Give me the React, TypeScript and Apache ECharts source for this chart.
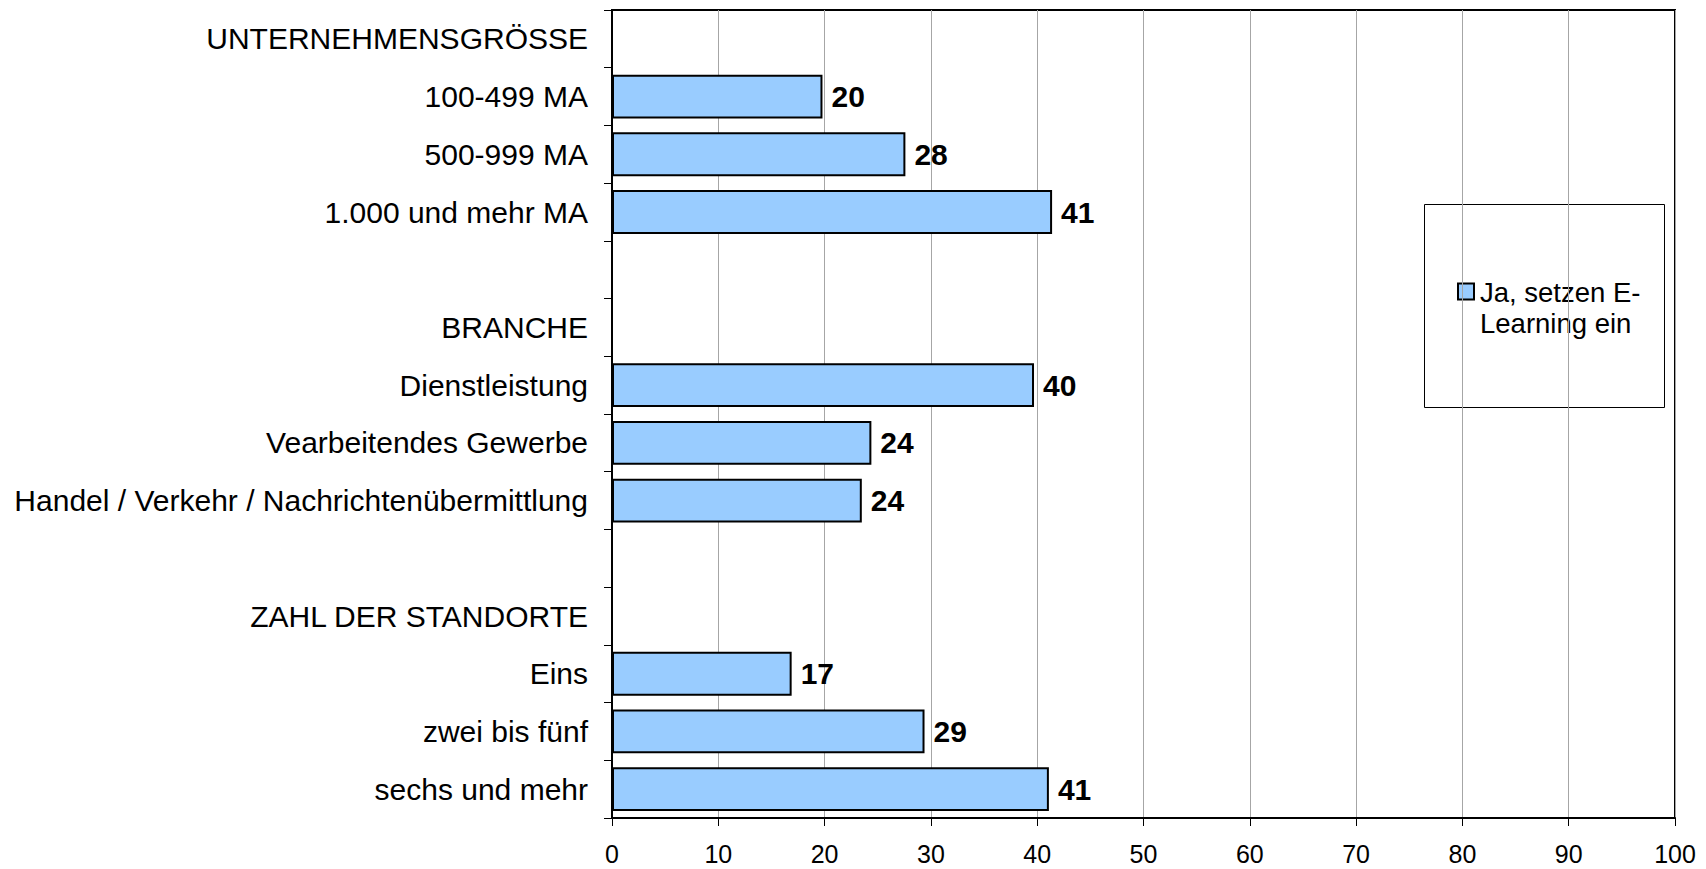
import React, { useEffect, useRef } from "react";
import * as echarts from "echarts";

const categories: string[] = [
  "UNTERNEHMENSGRÖSSE",
  "100-499 MA",
  "500-999 MA",
  "1.000 und mehr MA",
  " ",
  "BRANCHE",
  "Dienstleistung",
  "Vearbeitendes Gewerbe",
  "Handel / Verkehr / Nachrichtenübermittlung",
  "  ",
  "ZAHL DER STANDORTE",
  "Eins",
  "zwei bis fünf",
  "sechs und mehr",
];

const values: (number | null)[] = [
  null, 19.8, 27.6, 41.4, null, null, 39.7, 24.4, 23.5, null, null, 16.9, 29.4, 41.1,
];

const seriesName = "Ja, setzen E-\nLearning ein";
const xTicks = { min: 0, max: 100, interval: 10 };

const FONT = "'Liberation Sans', Arial, Helvetica, sans-serif";
const BAR_COLOR = "#99CCFF";

export default function App() {
  const ref = useRef<HTMLDivElement>(null);
  useEffect(() => {
    document.body.style.margin = "0";
    if (!ref.current) return;
    const chart = echarts.init(ref.current, undefined, { renderer: "svg" });
    chart.setOption({
      animation: false,
      backgroundColor: "#ffffff",
      textStyle: { fontFamily: FONT },
      grid: {
        left: 612,
        top: 10,
        right: 31,
        bottom: 51,
        show: true,
        borderColor: "#000",
        borderWidth: 2,
        backgroundColor: "transparent",
      },
      xAxis: {
        type: "value",
        min: xTicks.min,
        max: xTicks.max,
        interval: xTicks.interval,
        axisLine: { show: true, lineStyle: { color: "#000", width: 2 } },
        axisTick: { show: true, length: 8, lineStyle: { color: "#000", width: 1 } },
        axisLabel: { fontSize: 25, color: "#000", margin: 23, fontFamily: FONT },
        splitLine: { show: true, lineStyle: { color: "#a6a6a6", width: 1 } },
      },
      yAxis: {
        type: "category",
        inverse: true,
        data: categories,
        axisLine: { show: true, lineStyle: { color: "#000", width: 2 } },
        axisTick: { show: true, length: 8, lineStyle: { color: "#000", width: 1 } },
        axisLabel: { fontSize: 30, color: "#000", margin: 24, fontFamily: FONT },
        splitLine: { show: false },
      },
      series: [
        {
          name: seriesName,
          type: "bar",
          data: values,
          barCategoryGap: "24%",
          itemStyle: { color: BAR_COLOR, borderColor: "#000", borderWidth: 2 },
          label: {
            show: true,
            position: "right",
            distance: 9,
            fontSize: 30,
            fontWeight: "bold",
            color: "#000",
            fontFamily: FONT,
            formatter: (p: any) => (p.value == null ? "" : String(Math.round(p.value))),
          },
        },
      ],
      graphic: [
        {
          type: "group",
          z: 100,
          children: [
            {
              type: "rect",
              shape: { x: 1424.5, y: 204.5, width: 240, height: 203 },
              style: { fill: "#fff", stroke: "#000", lineWidth: 1 },
            },
            {
              type: "rect",
              shape: { x: 1458, y: 283.5, width: 16, height: 16 },
              style: { fill: BAR_COLOR, stroke: "#000", lineWidth: 2 },
            },
            {
              type: "text",
              x: 1480,
              y: 277,
              style: {
                text: seriesName,
                fontSize: 27.5,
                fontFamily: FONT,
                lineHeight: 31,
                fill: "#000",
                align: "left",
                verticalAlign: "top",
              },
            },
          ],
        },
      ],
    });
    return () => chart.dispose();
  }, []);
  return <div ref={ref} style={{ width: 1706, height: 869 }} />;
}
